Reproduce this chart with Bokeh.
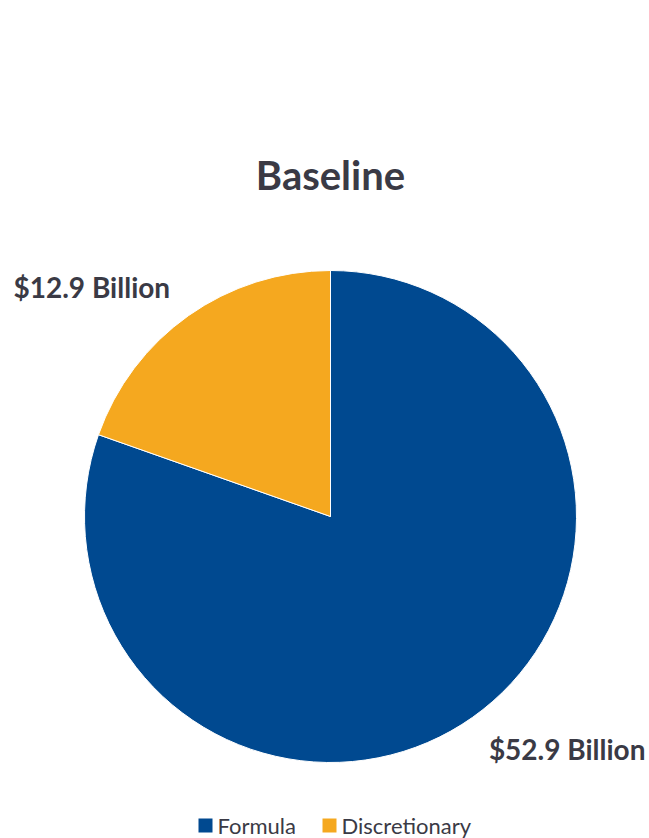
import math
from bokeh.plotting import figure
from bokeh.models import ColumnDataSource
from bokeh.core.properties import value
from bokeh.embed import file_html
from bokeh.resources import INLINE

title = "Baseline"
categories = ["Formula", "Discretionary"]
values = [52.9, 12.9]
labels = ["$52.9 Billion", "$12.9 Billion"]
colors = ["#004990", "#F5A81F"]

W, H = 649, 838
FONT = "Lato"
TXT = "#3A3A45"

p = figure(width=W, height=H, x_range=(0, W), y_range=(0, H),
           output_backend="svg", toolbar_location=None,
           min_border=0, outline_line_color=None)
p.axis.visible = False
p.grid.visible = False
p.background_fill_color = "white"

cx, cy, r = 330, 322, 246
total = sum(values)
# slices: Discretionary anticlockwise from 12 o'clock, Formula takes the rest
disc_ang = values[1] / total * 2 * math.pi
start = [math.pi / 2 + disc_ang, math.pi / 2]
end = [math.pi / 2 + 2 * math.pi, math.pi / 2 + disc_ang]
src = ColumnDataSource(dict(cat=categories, val=values, start=start, end=end, color=colors))
p.wedge(x=cx, y=cy, radius=r, start_angle="start", end_angle="end",
        fill_color="color", line_color="white", line_width=1, source=src)

# title
p.text(x=[330], y=[664], text=[title], text_font=value(FONT), text_font_style="bold",
       text_font_size="40px", text_color=TXT, text_align="center", text_baseline="middle")

# data labels
p.text(x=[13], y=[552], text=[labels[1]], text_font=value(FONT), text_font_style="bold",
       text_font_size="28px", text_color=TXT, text_align="left", text_baseline="middle")
p.text(x=[645], y=[90], text=[labels[0]], text_font=value(FONT), text_font_style="bold",
       text_font_size="28px", text_color=TXT, text_align="right", text_baseline="middle")

# legend
leg_x = [198, 322]
p.rect(x=[x + 7 for x in leg_x], y=[13, 13], width=14, height=14,
       fill_color=colors, line_color=None)
p.text(x=[x + 19 for x in leg_x], y=[13, 13], text=categories, text_font=value(FONT),
       text_font_size="22px", text_color=TXT, text_align="left", text_baseline="middle")

open("out.html", "w").write(file_html(p, INLINE))
